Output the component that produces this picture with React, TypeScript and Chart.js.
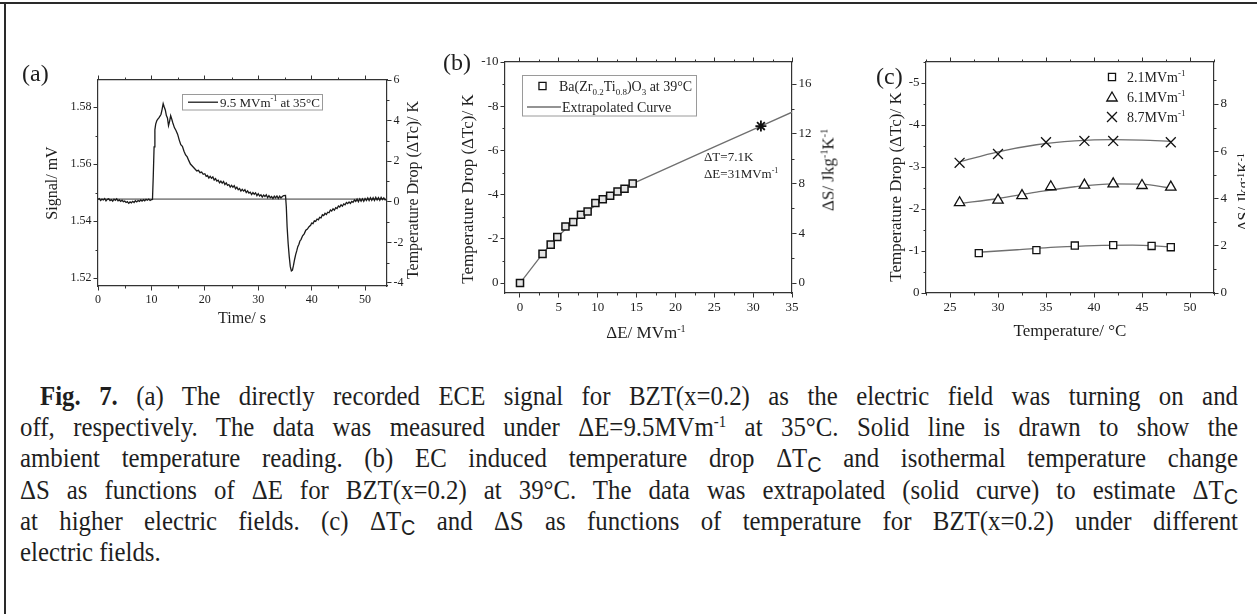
import { useEffect, useRef } from 'react';
import { Chart, registerables } from 'chart.js';

Chart.register(...registerables);

const SERIF = '"Liberation Serif", "Times New Roman", serif';
const INK = '#1e1e1e';
const AXIS = '#333333';
const CURVE = '#6f6f6f';

// ---------- (a) directly recorded ECE signal: [time s, signal mV] ----------
const signalTrace: [number, number][] = [
  // field off: baseline
  [0, 1.5476], [0.25, 1.5479], [0.5, 1.5472], [0.75, 1.5477], [1, 1.5474], [1.25, 1.5479],
  [1.5, 1.5471], [1.75, 1.5476], [2, 1.5478], [2.25, 1.5472], [2.5, 1.5475], [2.75, 1.547],
  [3, 1.5477], [3.25, 1.5473], [3.5, 1.5478], [3.75, 1.5471], [4, 1.5474], [4.25, 1.5469],
  [4.5, 1.5473], [4.75, 1.5468], [5, 1.547], [5.25, 1.5465], [5.5, 1.5468], [5.75, 1.5462],
  [6, 1.5467], [6.25, 1.5464], [6.5, 1.5469], [6.75, 1.5465], [7, 1.5471], [7.25, 1.5467],
  [7.5, 1.5472], [7.75, 1.5469], [8, 1.5474], [8.25, 1.547], [8.5, 1.5475], [8.75, 1.5471],
  [9, 1.5476], [9.25, 1.5473], [9.5, 1.5477], [9.75, 1.5472], [10, 1.5475], [10.2, 1.5476],
  // field on: heating and relaxation
  [10.35, 1.556], [10.5, 1.566], [10.65, 1.572], [10.8, 1.574], [11.0, 1.5752], [11.2, 1.5758],
  [11.4, 1.5762], [11.6, 1.5768], [11.8, 1.5775], [12.0, 1.5792], [12.2, 1.5812], [12.4, 1.58],
  [12.6, 1.579], [12.8, 1.577], [13.0, 1.5762], [13.2, 1.5735], [13.4, 1.575], [13.6, 1.577],
  [13.8, 1.5758], [14.0, 1.5745], [14.3, 1.5728], [14.6, 1.5718], [14.9, 1.5705], [15.2, 1.5685],
  [15.5, 1.5668], [15.8, 1.5662], [16.1, 1.5645], [16.4, 1.5632], [16.7, 1.5625], [17.0, 1.5612],
  [17.3, 1.56], [17.6, 1.5594], [17.9, 1.5588], [18.2, 1.5582], [18.5, 1.5576], [18.8, 1.5578],
  [19.1, 1.557], [19.4, 1.5572], [19.7, 1.5564],
  [20, 1.5566], [20.25, 1.5557], [20.5, 1.556], [20.75, 1.5551], [21, 1.5557], [21.25, 1.555],
  [21.5, 1.5555], [21.75, 1.5544], [22, 1.5549], [22.25, 1.554], [22.5, 1.5543], [22.75, 1.5534],
  [23, 1.554], [23.25, 1.5533], [23.5, 1.5539], [23.75, 1.5528], [24, 1.5534], [24.25, 1.5525],
  [24.5, 1.5528], [24.75, 1.5519], [25, 1.5525], [25.25, 1.5519], [25.5, 1.5524], [25.75, 1.5513],
  [26, 1.5519], [26.25, 1.551], [26.5, 1.5514], [26.75, 1.5505], [27, 1.5511], [27.25, 1.5505],
  [27.5, 1.551], [27.75, 1.55], [28, 1.5506], [28.25, 1.5498], [28.5, 1.5501], [28.75, 1.5493],
  [29, 1.55], [29.25, 1.5494], [29.5, 1.5499], [29.75, 1.5489], [30, 1.5496], [30.25, 1.5488],
  [30.5, 1.5492], [30.75, 1.5484], [31, 1.5491], [31.25, 1.5486], [31.5, 1.5492], [31.75, 1.5482],
  [32, 1.5489], [32.25, 1.5482], [32.5, 1.5486], [32.75, 1.5479], [33, 1.5487], [33.25, 1.5481],
  [33.5, 1.5488], [33.75, 1.5479], [34, 1.5487], [34.25, 1.5481], [34.5, 1.5486], [34.75, 1.5489],
  [35.1, 1.549],
  // field off: cooling and recovery
  [35.25, 1.545], [35.4, 1.538], [35.6, 1.532], [35.8, 1.5275], [36.0, 1.524], [36.2, 1.5225],
  [36.4, 1.5228], [36.6, 1.5245], [36.8, 1.5265], [37.0, 1.5282], [37.2, 1.5295], [37.4, 1.531],
  [37.6, 1.5318], [37.8, 1.533], [38.0, 1.5335], [38.3, 1.5348], [38.6, 1.5355], [38.9, 1.5368],
  [39.2, 1.5372], [39.5, 1.538], [39.8, 1.5385],
  [40, 1.5393], [40.25, 1.5391], [40.5, 1.5401], [40.75, 1.5399], [41, 1.5407], [41.25, 1.5404],
  [41.5, 1.5413], [41.75, 1.5411], [42, 1.5422], [42.25, 1.5419], [42.5, 1.5427], [42.75, 1.5423],
  [43, 1.5431], [43.25, 1.5429], [43.5, 1.5439], [43.75, 1.5435], [44, 1.5443], [44.25, 1.5438],
  [44.5, 1.5447], [44.75, 1.5444], [45, 1.5453], [45.25, 1.5449], [45.5, 1.5457], [45.75, 1.5452],
  [46, 1.546], [46.25, 1.5457], [46.5, 1.5465], [46.75, 1.5461], [47, 1.5467], [47.25, 1.5462],
  [47.5, 1.5469], [47.75, 1.5466], [48, 1.5474], [48.25, 1.5469], [48.5, 1.5477], [48.75, 1.5468],
  [49, 1.5478], [49.25, 1.547], [49.5, 1.5478], [49.75, 1.5469], [50, 1.5479], [50.25, 1.5472],
  [50.5, 1.5481], [50.75, 1.5472], [51, 1.5482], [51.25, 1.5473], [51.5, 1.5482], [51.75, 1.5472],
  [52, 1.5483], [52.25, 1.5474], [52.5, 1.5482], [52.75, 1.5473], [53, 1.5483], [53.25, 1.5475],
  [53.5, 1.5481], [53.75, 1.5474], [54.1, 1.5478],
];
const ambientSignalMV = 1.5477;

// ---------- (b) temperature drop vs field at 39 °C ----------
const fieldB = [0, 2.9, 3.95, 4.8, 5.85, 6.85, 7.85, 8.7, 9.7, 10.65, 11.6, 12.55, 13.45, 14.5];
const dropB = [0, -1.32, -1.74, -2.08, -2.56, -2.76, -3.09, -3.24, -3.62, -3.79, -3.95, -4.14, -4.27, -4.5];
const extrapField = [0, 2.9, 4.8, 6.85, 8.7, 10.65, 12.55, 14.5, 20, 25, 31, 35];
const extrapDrop = [0, -1.32, -2.08, -2.76, -3.24, -3.79, -4.14, -4.5, -5.37, -6.16, -7.1, -7.73];
const predictedField = 31;
const predictedDrop = -7.1;

// ---------- (c) temperature drop vs temperature ----------
const tempLow = [28, 34, 38, 42, 46, 48];
const dropLow = [-0.95, -1.02, -1.13, -1.14, -1.12, -1.09];
const tempMid = [26, 30, 32.5, 35.5, 39, 42, 45, 48];
const dropMid = [-2.15, -2.21, -2.32, -2.53, -2.57, -2.6, -2.56, -2.52];
const tempHigh = [26, 30, 35, 39, 42, 48];
const dropHigh = [-3.1, -3.31, -3.59, -3.62, -3.62, -3.59];
const fitLowT = [28, 32, 36, 40, 44, 48];
const fitLowD = [-0.97, -1.03, -1.09, -1.13, -1.14, -1.1];
const fitMidT = [26, 30, 34, 38, 42, 45, 48];
const fitMidD = [-2.13, -2.25, -2.4, -2.53, -2.6, -2.59, -2.5];
const fitHighT = [26, 30, 34, 38, 42, 45, 48];
const fitHighD = [-3.12, -3.36, -3.53, -3.62, -3.65, -3.64, -3.61];
const fieldLabels = ['2.1MVm', '6.1MVm', '8.7MVm'];

const pts = (xs: number[], ys: number[]) => xs.map((x, i) => ({ x, y: ys[i] }));

type Part = { t: string; k?: 'sub' | 'sup' };

function richText(ctx: CanvasRenderingContext2D, parts: Part[], x: number, y: number, size: number) {
  ctx.save();
  ctx.fillStyle = INK;
  ctx.textAlign = 'left';
  ctx.textBaseline = 'alphabetic';
  let cx = x;
  for (const p of parts) {
    const s = p.k ? Math.round(size * 0.62) : size;
    ctx.font = `${s}px ${SERIF}`;
    const dy = p.k === 'sub' ? size * 0.25 : p.k === 'sup' ? -size * 0.42 : 0;
    ctx.fillText(p.t, cx, y + dy);
    cx += ctx.measureText(p.t).width;
  }
  ctx.restore();
}

function marker(ctx: CanvasRenderingContext2D, kind: string, x: number, y: number, r: number, fill = '#fff') {
  ctx.save();
  ctx.strokeStyle = '#111';
  ctx.fillStyle = fill;
  ctx.lineWidth = 1.3;
  ctx.beginPath();
  if (kind === 'rect') {
    const s = r * Math.SQRT1_2;
    ctx.rect(x - s, y - s, 2 * s, 2 * s);
    ctx.fill();
    ctx.stroke();
  } else if (kind === 'triangle') {
    ctx.moveTo(x, y - r);
    ctx.lineTo(x + r * 0.866, y + r * 0.5);
    ctx.lineTo(x - r * 0.866, y + r * 0.5);
    ctx.closePath();
    ctx.fill();
    ctx.stroke();
  } else {
    const s = r * Math.SQRT1_2;
    ctx.moveTo(x - s, y - s);
    ctx.lineTo(x + s, y + s);
    ctx.moveTo(x + s, y - s);
    ctx.lineTo(x - s, y + s);
    ctx.stroke();
  }
  ctx.restore();
}

type AxisSpec = {
  position: 'left' | 'right' | 'top' | 'bottom';
  min: number;
  max: number;
  major: number;
  minor: number;
  size: number;
  labels?: boolean;
  reverse?: boolean;
  digits?: number;
  font?: number;
};

// minor-tick spacing for each built scale, read by the minorTicks plugin
const minorSpecs = new WeakMap<object, AxisSpec>();

function stepValues(min: number, max: number, step: number) {
  const out: number[] = [];
  const k0 = Math.ceil(min / step - 1e-9);
  const k1 = Math.floor(max / step + 1e-9);
  for (let k = k0; k <= k1; k++) out.push(Math.round(k * step * 1e6) / 1e6);
  return out;
}

function axis(a: AxisSpec) {
  const horizontal = a.position === 'top' || a.position === 'bottom';
  return {
    type: 'linear',
    position: a.position,
    min: a.min,
    max: a.max,
    reverse: !!a.reverse,
    bounds: 'data',
    afterBuildTicks: (scale: any) => {
      scale.ticks = stepValues(a.min, a.max, a.major).map((value) => ({ value }));
      minorSpecs.set(scale, a);
    },
    afterFit: (scale: any) => {
      if (horizontal) scale.height = a.size;
      else scale.width = a.size;
    },
    grid: { drawOnChartArea: false, drawTicks: true, tickLength: 4.5, tickWidth: 1, tickColor: AXIS },
    border: { display: true, color: AXIS, width: 1.2 },
    ticks: {
      display: !!a.labels,
      autoSkip: false,
      maxRotation: 0,
      minRotation: 0,
      padding: 2,
      color: INK,
      font: { family: SERIF, size: a.font ?? 13 },
      callback: (v: number) => (a.digits ? Number(v).toFixed(a.digits) : String(Math.round(v))),
    },
  };
}

// short outward ticks between the labelled ones
const minorTicks = {
  id: 'minorTicks',
  afterDraw(chart: any) {
    const ctx = chart.ctx as CanvasRenderingContext2D;
    ctx.save();
    ctx.strokeStyle = AXIS;
    ctx.lineWidth = 1;
    ctx.beginPath();
    Object.values(chart.scales).forEach((scale: any) => {
      const a = minorSpecs.get(scale);
      if (!a) return;
      const len = 2.5;
      stepValues(a.min, a.max, a.minor).forEach((v) => {
        if (Math.abs(v / a.major - Math.round(v / a.major)) < 1e-6) return;
        const p = Math.round(scale.getPixelForValue(v)) + 0.5;
        if (a.position === 'bottom') {
          ctx.moveTo(p, scale.top);
          ctx.lineTo(p, scale.top + len);
        } else if (a.position === 'top') {
          ctx.moveTo(p, scale.bottom);
          ctx.lineTo(p, scale.bottom - len);
        } else if (a.position === 'left') {
          ctx.moveTo(scale.right, p);
          ctx.lineTo(scale.right - len, p);
        } else {
          ctx.moveTo(scale.left, p);
          ctx.lineTo(scale.left + len, p);
        }
      });
    });
    ctx.stroke();
    ctx.restore();
  },
};

const baseOptions = {
  animation: false,
  responsive: false,
  events: [],
  layout: { padding: 0 },
  plugins: { legend: { display: false }, tooltip: { enabled: false } },
};

function configA(): any {
  return {
    type: 'scatter',
    data: {
      datasets: [
        {
          data: signalTrace.map(([x, y]) => ({ x, y })),
          showLine: true,
          borderColor: '#1b1b1b',
          borderWidth: 1.3,
          pointRadius: 0,
          xAxisID: 'x',
          yAxisID: 'y',
        },
        {
          data: [{ x: 0, y: ambientSignalMV }, { x: 54.1, y: ambientSignalMV }],
          showLine: true,
          borderColor: '#8c8c8c',
          borderWidth: 1.6,
          pointRadius: 0,
          xAxisID: 'x',
          yAxisID: 'y',
        },
      ],
    },
    options: {
      ...baseOptions,
      scales: {
        x: axis({ position: 'bottom', min: 0, max: 54.1, major: 10, minor: 5, size: 34, labels: true, font: 12 }),
        x2: axis({ position: 'top', min: 0, max: 54.1, major: 10, minor: 5, size: 20 }),
        y: axis({ position: 'left', min: 1.5172, max: 1.5895, major: 0.02, minor: 0.01, size: 58, labels: true, digits: 2, font: 12 }),
        y2: axis({ position: 'right', min: -4.15, max: 6, major: 2, minor: 1, size: 53, labels: true, font: 12 }),
      },
    },
    plugins: [
      minorTicks,
      {
        id: 'legendA',
        afterDraw(chart: any) {
          const ctx = chart.ctx as CanvasRenderingContext2D;
          ctx.save();
          ctx.strokeStyle = '#9a9a9a';
          ctx.lineWidth = 1;
          ctx.strokeRect(142.5, 34.5, 140, 15.5);
          ctx.strokeStyle = '#1b1b1b';
          ctx.lineWidth = 1.3;
          ctx.beginPath();
          ctx.moveTo(148, 42.2);
          ctx.lineTo(178, 42.2);
          ctx.stroke();
          ctx.restore();
          richText(ctx, [{ t: '9.5 MVm' }, { t: '-1', k: 'sup' }, { t: ' at 35°C' }], 180, 46.7, 13);
        },
      },
    ],
  };
}

function configB(): any {
  return {
    type: 'scatter',
    data: {
      datasets: [
        {
          data: [{ x: predictedField, y: predictedDrop }],
          pointStyle: 'star',
          pointRadius: 5.5,
          borderColor: '#111',
          borderWidth: 1.8,
          order: 0,
        },
        {
          data: pts(fieldB, dropB),
          pointStyle: 'rect',
          pointRadius: 5,
          backgroundColor: '#e4e4e4',
          borderColor: '#111',
          borderWidth: 1.5,
          order: 1,
        },
        {
          data: pts(extrapField, extrapDrop),
          showLine: true,
          pointRadius: 0,
          borderColor: CURVE,
          borderWidth: 1.3,
          order: 2,
        },
      ],
    },
    options: {
      ...baseOptions,
      scales: {
        x: axis({ position: 'bottom', min: -1.93, max: 35, major: 5, minor: 2.5, size: 37, labels: true }),
        x2: axis({ position: 'top', min: -1.93, max: 35, major: 5, minor: 2.5, size: 22 }),
        y: axis({ position: 'left', min: -10, max: 0.45, major: 2, minor: 1, size: 35, labels: true, reverse: true }),
        y2: axis({ position: 'right', min: -0.8, max: 17.77, major: 4, minor: 2, size: 38, labels: true }),
      },
    },
    plugins: [
      minorTicks,
      {
        id: 'legendB',
        afterDraw(chart: any) {
          const ctx = chart.ctx as CanvasRenderingContext2D;
          ctx.save();
          ctx.strokeStyle = '#9a9a9a';
          ctx.lineWidth = 1;
          ctx.strokeRect(52.5, 35.5, 174, 40.5);
          ctx.strokeStyle = CURVE;
          ctx.lineWidth = 1.3;
          ctx.beginPath();
          ctx.moveTo(57, 67);
          ctx.lineTo(91, 67);
          ctx.stroke();
          ctx.restore();
          marker(ctx, 'rect', 72.5, 46, 5);
          richText(
            ctx,
            [
              { t: 'Ba(Zr' }, { t: '0.2', k: 'sub' }, { t: 'Ti' }, { t: '0.8', k: 'sub' },
              { t: ')O' }, { t: '3', k: 'sub' }, { t: ' at 39°C' },
            ],
            89, 51, 14,
          );
          richText(ctx, [{ t: 'Extrapolated Curve' }], 92, 72, 14);
          richText(ctx, [{ t: `ΔT=${Math.abs(predictedDrop).toFixed(1)}K` }], 234, 121, 13);
          richText(ctx, [{ t: `ΔE=${predictedField}MVm` }, { t: '-1', k: 'sup' }], 234, 138, 13);
        },
      },
    ],
  };
}

function configC(): any {
  const curve = (xs: number[], ys: number[]) => ({
    data: pts(xs, ys),
    showLine: true,
    pointRadius: 0,
    borderColor: CURVE,
    borderWidth: 1.3,
    cubicInterpolationMode: 'monotone',
    order: 5,
  });
  return {
    type: 'scatter',
    data: {
      datasets: [
        { data: pts(tempLow, dropLow), pointStyle: 'rect', pointRadius: 5, backgroundColor: '#fff', borderColor: '#111', borderWidth: 1.3, order: 1 },
        { data: pts(tempMid, dropMid), pointStyle: 'triangle', pointRadius: 6, backgroundColor: '#fff', borderColor: '#111', borderWidth: 1.3, order: 1 },
        { data: pts(tempHigh, dropHigh), pointStyle: 'crossRot', pointRadius: 7, borderColor: '#111', borderWidth: 1.3, order: 1 },
        curve(fitLowT, fitLowD),
        curve(fitMidT, fitMidD),
        curve(fitHighT, fitHighD),
      ],
    },
    options: {
      ...baseOptions,
      scales: {
        x: axis({ position: 'bottom', min: 22.5, max: 52.5, major: 5, minor: 2.5, size: 37, labels: true }),
        x2: axis({ position: 'top', min: 22.5, max: 52.5, major: 5, minor: 2.5, size: 22 }),
        y: axis({ position: 'left', min: -5.5, max: 0, major: 1, minor: 0.5, size: 36, labels: true, reverse: true }),
        y2: axis({ position: 'right', min: 0, max: 9.78, major: 2, minor: 1, size: 36, labels: true }),
      },
    },
    plugins: [
      minorTicks,
      {
        id: 'legendC',
        afterDraw(chart: any) {
          const ctx = chart.ctx as CanvasRenderingContext2D;
          const kinds = ['rect', 'triangle', 'cross'];
          const radii = [5, 6, 7];
          fieldLabels.forEach((label, i) => {
            const y = 37 + i * 20;
            marker(ctx, kinds[i], 222, y + (kinds[i] === 'triangle' ? 1 : 0), radii[i]);
            richText(ctx, [{ t: label }, { t: '-1', k: 'sup' }], 237, y + 5, 14);
          });
        },
      },
    ],
  };
}

function Panel(props: { left: number; top: number; width: number; height: number; make: () => any }) {
  const ref = useRef<HTMLCanvasElement>(null);
  useEffect(() => {
    const chart = new Chart(ref.current as HTMLCanvasElement, props.make());
    return () => chart.destroy();
  }, []);
  return (
    <canvas
      ref={ref}
      width={props.width}
      height={props.height}
      style={{ position: 'absolute', left: props.left, top: props.top, width: props.width, height: props.height }}
    />
  );
}

const sup = (s: string) => <sup style={{ fontSize: '0.6em', verticalAlign: '0.55em', lineHeight: 0 }}>{s}</sup>;
const subC = <span style={{ fontSize: '0.8em', verticalAlign: '-0.22em', fontFamily: '"Liberation Sans", sans-serif', lineHeight: 0 }}>C</span>;

function VTitle(props: { x: number; y: number; size: number; children: any }) {
  return (
    <div
      style={{
        position: 'absolute',
        left: props.x,
        top: props.y,
        transform: 'translate(-50%, -50%) rotate(-90deg)',
        whiteSpace: 'nowrap',
        fontSize: props.size,
        lineHeight: 1,
      }}
    >
      {props.children}
    </div>
  );
}

function HText(props: { x: number; y: number; size: number; children: any }) {
  return (
    <div
      style={{
        position: 'absolute',
        left: props.x,
        top: props.y,
        transform: 'translate(-50%, -50%)',
        whiteSpace: 'nowrap',
        fontSize: props.size,
        lineHeight: 1,
      }}
    >
      {props.children}
    </div>
  );
}

const justified = { textAlign: 'justify' as const, textAlignLast: 'justify' as const, whiteSpace: 'nowrap' as const };
const CAPTION_SCALE = 0.92;

export default function App() {
  return (
    <div
      style={{
        position: 'absolute',
        left: 0,
        top: 0,
        width: 1257,
        height: 614,
        background: '#fff',
        overflow: 'hidden',
        fontFamily: SERIF,
        color: INK,
      }}
    >
      <div style={{ position: 'absolute', left: 0, top: 2, width: 1257, height: 2, background: '#2a2a2a' }} />
      <div style={{ position: 'absolute', left: 4, top: 2, width: 2, height: 612, background: '#2a2a2a' }} />

      <Panel left={40} top={60} width={400} height={260} make={configA} />
      <Panel left={470} top={40} width={360} height={290} make={configB} />
      <Panel left={890} top={40} width={360} height={290} make={configC} />

      <div style={{ position: 'absolute', left: 22, top: 61, fontSize: 24, lineHeight: 1 }}>(a)</div>
      <div style={{ position: 'absolute', left: 443, top: 50, fontSize: 24, lineHeight: 1 }}>(b)</div>
      <div style={{ position: 'absolute', left: 876, top: 64, fontSize: 24, lineHeight: 1 }}>(c)</div>

      <VTitle x={52} y={183} size={16}>Signal/ mV</VTitle>
      <VTitle x={413} y={190} size={16}>Temperature Drop (ΔTc)/ K</VTitle>
      <HText x={242} y={318} size={16}>Time/ s</HText>

      <VTitle x={467} y={189} size={17}>Temperature Drop (ΔTc)/ K</VTitle>
      <VTitle x={828} y={170} size={17}>ΔS/ Jkg{sup('-1')}K{sup('-1')}</VTitle>
      <HText x={646} y={332} size={17}>ΔE/ MVm{sup('-1')}</HText>

      <VTitle x={895} y={187} size={17}>Temperature Drop (ΔTc)/ K</VTitle>
      <HText x={1070} y={330} size={17}>Temperature/ °C</HText>
      {/* right-hand ΔS title of (c), cut by the page edge of the figure */}
      <div style={{ position: 'absolute', left: 1232, top: 120, width: 13, height: 150, overflow: 'hidden' }}>
        <VTitle x={12} y={72} size={16}>ΔS/ Jkg{sup('-1')}K{sup('-1')}</VTitle>
      </div>

      <div
        style={{
          position: 'absolute',
          left: 20,
          top: 381,
          width: 1218 / CAPTION_SCALE,
          fontSize: 27,
          lineHeight: '31.2px',
          transform: `scaleX(${CAPTION_SCALE})`,
          transformOrigin: 'left top',
        }}
      >
        <div style={{ ...justified, paddingLeft: 20 / CAPTION_SCALE }}>
          <b>Fig. 7.</b> (a) The directly recorded ECE signal for BZT(x=0.2) as the electric field was turning on and
        </div>
        <div style={justified}>
          off, respectively. The data was measured under ΔE=9.5MVm{sup('-1')} at 35°C. Solid line is drawn to show the
        </div>
        <div style={justified}>
          ambient temperature reading. (b) EC induced temperature drop ΔT{subC} and isothermal temperature change
        </div>
        <div style={justified}>
          ΔS as functions of ΔE for BZT(x=0.2) at 39°C. The data was extrapolated (solid curve) to estimate ΔT{subC}
        </div>
        <div style={justified}>
          at higher electric fields. (c) ΔT{subC} and ΔS as functions of temperature for BZT(x=0.2) under different
        </div>
        <div style={{ whiteSpace: 'nowrap' }}>electric fields.</div>
      </div>
    </div>
  );
}
